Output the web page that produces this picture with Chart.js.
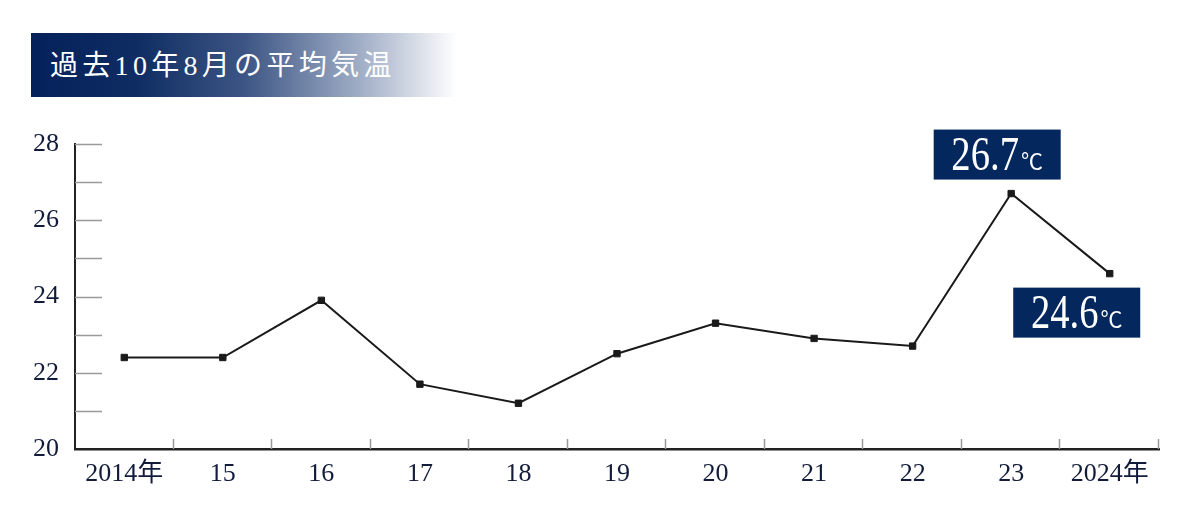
<!DOCTYPE html>
<html>
<head>
<meta charset="utf-8">
<script src="https://cdn.jsdelivr.net/npm/chart.js@4"></script>
<style>
  html, body { margin: 0; padding: 0; background: #fff; }
  #wrap { position: relative; width: 1200px; height: 531px; }
  #title {
    position: absolute; left: 31px; top: 33px; width: 426px; height: 64px;
    background: linear-gradient(to right, #04215b 0%, #0f2d63 25%, #3c5584 50%, #a3b0c8 78%, #ffffff 100%);
    color: #fff; font-family: "Liberation Serif", "Noto Sans CJK JP", serif;
    font-size: 28px; letter-spacing: 4.3px; line-height: 66px; padding-left: 19px;
    box-sizing: border-box; white-space: nowrap;
  }
  canvas { position: absolute; left: 0; top: 0; }
</style>
</head>
<body>
<div id="wrap">
  <canvas id="c" width="1200" height="531"></canvas>
  <div id="title">過去10年8月の平均気温</div>
</div>
<script>
// 過去10年8月の平均気温
var years = ['2014年', '15', '16', '17', '18', '19', '20', '21', '22', '23', '2024年'];
var temps = [22.4, 22.4, 23.9, 21.7, 21.2, 22.5, 23.3, 22.9, 22.7, 26.7, 24.6];
var yTicks = [20, 22, 24, 26, 28];
// 吹き出し: データ番号, 表示文字, 点からのずれ
var callouts = [
  { idx: 9, num: '26.7', dx: -14, dy: -14, below: false },
  { idx: 10, num: '24.6', dx: -33, dy: 14, below: true }
];

var SERIF = '"Liberation Serif", "Noto Sans CJK JP", serif';
var NAVY = '#04275e';
var TEXT = '#121c3a';

// 軸の内側目盛りと値ラベル
var decorPlugin = {
  id: 'decor',
  afterDatasetsDraw: function(chart) {
    var ctx = chart.ctx;
    var x = chart.scales.x, y = chart.scales.y;
    var area = chart.chartArea;
    ctx.save();
    // y 内側目盛り
    ctx.strokeStyle = '#9a9a9a';
    ctx.lineWidth = 1.5;
    y.ticks.forEach(function(t) {
      if (t.value <= y.min) return;
      var py = Math.round(y.getPixelForValue(t.value)) + 0.5;
      ctx.beginPath();
      ctx.moveTo(area.left, py);
      ctx.lineTo(area.left + 27, py);
      ctx.stroke();
    });
    // x 内側目盛り (区切り)
    var half = (x.getPixelForValue(1) - x.getPixelForValue(0)) / 2;
    for (var i = 0; i < years.length; i++) {
      var px = Math.round(x.getPixelForValue(i) + half) - 0.5;
      ctx.beginPath();
      ctx.moveTo(px, area.bottom - 10);
      ctx.lineTo(px, area.bottom);
      ctx.stroke();
    }
    // 値ラベル
    callouts.forEach(function(c) {
      var px = x.getPixelForValue(c.idx);
      var py = y.getPixelForValue(temps[c.idx]);
      var w = 127, h = 50;
      var cx = px + c.dx;
      var top = c.below ? py + c.dy : py + c.dy - h;
      ctx.fillStyle = NAVY;
      ctx.fillRect(cx - w / 2, top, w, h);
      ctx.fillStyle = '#fff';
      ctx.textBaseline = 'alphabetic';
      ctx.font = '42px ' + SERIF;
      var nw = ctx.measureText(c.num).width * 0.92;
      ctx.font = '22px ' + SERIF;
      var uw = ctx.measureText('℃').width;
      var sx = cx - (nw + uw + 2) / 2;
      var base = top + h / 2 + 15;
      ctx.save();
      ctx.translate(sx, base);
      ctx.scale(0.92, 1.14);
      ctx.font = '42px ' + SERIF;
      ctx.textAlign = 'left';
      ctx.fillText(c.num, 0, 0);
      ctx.restore();
      ctx.font = '22px ' + SERIF;
      ctx.textAlign = 'left';
      ctx.fillText('℃', sx + nw + 2, base - 1);
    });
    ctx.restore();
  }
};

new Chart(document.getElementById('c'), {
  type: 'line',
  data: {
    labels: years,
    datasets: [{
      data: temps,
      borderColor: '#1a1a1a',
      borderWidth: 2,
      pointStyle: 'rect',
      pointRadius: 4.5,
      pointBackgroundColor: '#1a1a1a',
      pointBorderColor: '#1a1a1a',
      pointBorderWidth: 1,
      tension: 0,
      fill: false
    }]
  },
  options: {
    responsive: false,
    animation: false,
    devicePixelRatio: 1,
    layout: { padding: { left: 0, right: 41, top: 144, bottom: 0 } },
    plugins: { legend: { display: false }, tooltip: { enabled: false } },
    scales: {
      x: {
        offset: true,
        afterFit: function(s) { s.height = 82; },
        grid: { display: true, drawOnChartArea: false, drawTicks: false, color: 'rgba(0,0,0,0)' },
        border: { display: true, color: '#222', width: 2.5 },
        ticks: { color: TEXT, font: { family: SERIF, size: 26 }, padding: 10, maxRotation: 0, autoSkip: false }
      },
      y: {
        min: 20,
        max: 28,
        afterFit: function(s) { s.width = 75; },
        afterBuildTicks: function(s) {
          var t = [];
          for (var v = 20; v <= 28; v++) t.push({ value: v });
          s.ticks = t;
        },
        grid: { display: true, drawOnChartArea: false, drawTicks: false, color: 'rgba(0,0,0,0)' },
        border: { display: true, color: '#222', width: 2 },
        ticks: {
          color: TEXT,
          font: { family: SERIF, size: 26 },
          padding: 16,
          callback: function(v) { return yTicks.indexOf(v) >= 0 ? String(v) : ''; }
        }
      }
    }
  },
  plugins: [decorPlugin]
});
</script>
</body>
</html>
